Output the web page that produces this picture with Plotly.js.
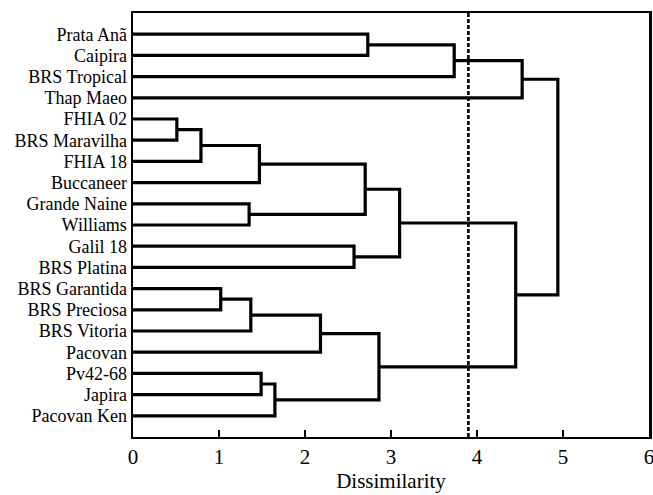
<!DOCTYPE html>
<html>
<head>
<meta charset="utf-8">
<script src="https://cdn.plot.ly/plotly-3.0.1.min.js"></script>
<style>html,body{margin:0;padding:0;background:#fff;}#chart{width:653px;height:495px;}</style>
</head>
<body>
<div id="chart"></div>
<script>
// Leaves, top to bottom
const leaves = ["Prata Anã","Caipira","BRS Tropical","Thap Maeo","FHIA 02","BRS Maravilha","FHIA 18","Buccaneer","Grande Naine","Williams","Galil 18","BRS Platina","BRS Garantida","BRS Preciosa","BRS Vitoria","Pacovan","Pv42-68","Japira","Pacovan Ken"];
// Merges: children referenced by leaf name or by merge id ("m" + index)
const mergeLeft   = ["Prata Anã","m0","m1","FHIA 02","m3","m4","Grande Naine","m5","Galil 18","m7","BRS Garantida","m10","m11","Pv42-68","m13","m12","m9","m2"];
const mergeRight  = ["Caipira","BRS Tropical","Thap Maeo","BRS Maravilha","FHIA 18","Buccaneer","Williams","m6","BRS Platina","m8","BRS Preciosa","BRS Vitoria","Pacovan","Japira","Pacovan Ken","m14","m15","m16"];
const mergeHeight = [2.73,3.735,4.525,0.51,0.79,1.47,1.35,2.70,2.57,3.10,1.02,1.37,2.18,1.49,1.65,2.86,4.45,4.94];
const cutLevel = 3.9;
const xTicks = [0,1,2,3,4,5,6];

// node positions: leaves at height 0, y = index+1
const pos = {};
leaves.forEach((n,i)=>{pos[n]={x:0,y:i+1};});
const xs=[], ys=[];
mergeHeight.forEach((h,i)=>{
  const a=pos[mergeLeft[i]], b=pos[mergeRight[i]];
  xs.push(a.x,h,h,b.x,null);
  ys.push(a.y,a.y,b.y,b.y,null);
  pos["m"+i]={x:h,y:(a.y+b.y)/2};
});

const traces=[
  {type:'scatter',mode:'lines',x:xs,y:ys,line:{color:'#000',width:3.2,shape:'linear'},hoverinfo:'skip',showlegend:false,cliponaxis:false},
  {type:'scatter',mode:'lines',x:[cutLevel,cutLevel],y:[0,20],line:{color:'#000',width:2.6,dash:'4px,2px'},hoverinfo:'skip',showlegend:false}
];

const FONT = 'Times New Roman, serif';
const layout={
  width:653,height:495,
  margin:{l:133,r:4,t:13,b:58},
  paper_bgcolor:'#fff',plot_bgcolor:'#fff',
  font:{family:FONT,color:'#000',size:18},
  showlegend:false,
  xaxis:{range:[0,6],tickvals:xTicks,ticktext:xTicks.map(String),ticks:'inside',ticklen:7,tickwidth:2,tickcolor:'#000',
    ticklabeloverflow:'allow',
    showline:true,linewidth:2,linecolor:'#000',mirror:true,showgrid:false,zeroline:false,
    tickfont:{family:FONT,size:21,color:'#000'},title:{text:'Dissimilarity',font:{family:FONT,size:21,color:'#000'},standoff:4}},
  yaxis:{range:[20,0],tickvals:leaves.map((_,i)=>i+1),ticktext:leaves,ticks:'',ticklen:0,
    showline:true,linewidth:2.5,linecolor:'#000',mirror:true,showgrid:false,zeroline:false,
    tickfont:{family:FONT,size:18,color:'#000'}}
};
Plotly.newPlot('chart',traces,layout,{displayModeBar:false,staticPlot:true});
</script>
</body>
</html>
